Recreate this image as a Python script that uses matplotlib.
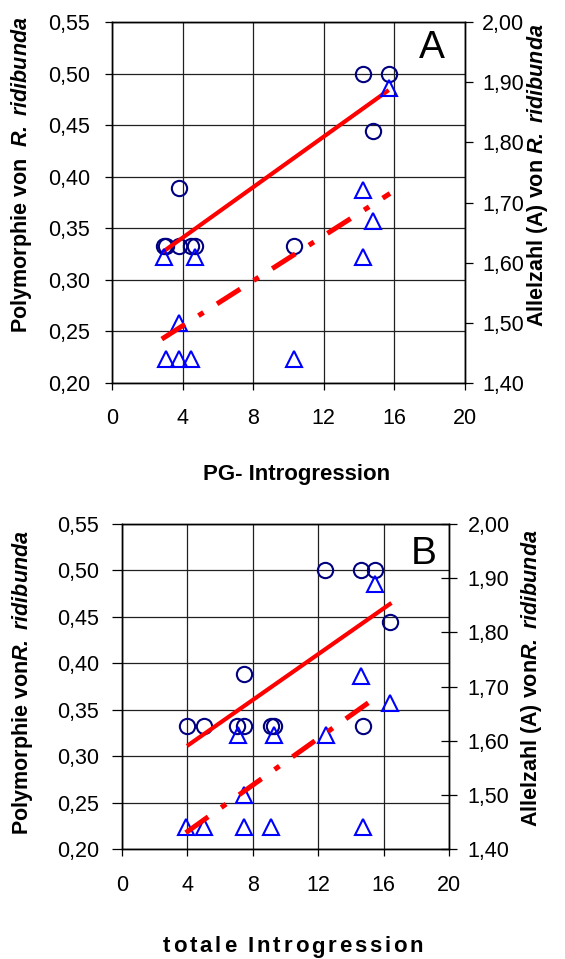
import matplotlib
matplotlib.use("Agg")
import matplotlib.pyplot as plt

plt.rcParams['font.family'] = ['Liberation Sans', 'DejaVu Sans']
plt.rcParams['mathtext.fontset'] = 'custom'
plt.rcParams['mathtext.rm'] = 'Liberation Sans'
plt.rcParams['mathtext.it'] = 'Liberation Sans:italic'
plt.rcParams['mathtext.bf'] = 'Liberation Sans:bold'
plt.rcParams['mathtext.bfit'] = 'Liberation Sans:bold:italic'

# ---------------- data ----------------
x_ticks = [0, 4, 8, 12, 16, 20]
left_ticks = [0.20, 0.25, 0.30, 0.35, 0.40, 0.45, 0.50, 0.55]
right_ticks = [1.40, 1.50, 1.60, 1.70, 1.80, 1.90, 2.00]

# Panel A: PG introgression
a_poly_x = [2.95, 3.05, 3.8, 4.5, 4.7, 10.3, 3.8, 14.2, 15.7, 14.8]
a_poly_y = [0.333, 0.333, 0.333, 0.333, 0.333, 0.333, 0.389, 0.500, 0.500, 0.444]
a_alle_x = [2.95, 4.7, 14.2, 3.8, 3.05, 3.8, 4.5, 10.3, 14.2, 14.8, 15.7]
a_alle_y = [1.61, 1.61, 1.61, 1.50, 1.44, 1.44, 1.44, 1.44, 1.72, 1.67, 1.89]
a_poly_fit_x = [2.87, 15.68]
a_poly_fit_y = [0.327, 0.484]
a_alle_fit_x = [2.82, 15.75]
a_alle_fit_y = [1.473, 1.715]

# Panel B: total introgression
b_poly_x = [12.44, 14.6, 15.47, 16.39, 7.44, 3.98, 5.0, 7.05, 7.46, 9.14, 9.3, 14.74]
b_poly_y = [0.500, 0.500, 0.500, 0.444, 0.389, 0.333, 0.333, 0.333, 0.333, 0.333, 0.333, 0.333]
b_alle_x = [15.47, 14.64, 16.39, 7.1, 9.28, 12.46, 7.44, 3.94, 5.0, 7.44, 9.14, 14.74]
b_alle_y = [1.89, 1.72, 1.67, 1.61, 1.61, 1.61, 1.50, 1.44, 1.44, 1.44, 1.44, 1.44]
b_poly_fit_x = [3.98, 16.48]
b_poly_fit_y = [0.311, 0.465]
b_alle_fit_x = [3.90, 15.72]
b_alle_fit_y = [1.430, 1.684]

# ---------------- figure ----------------
W, H, DPI = 565, 959, 100
fig = plt.figure(figsize=(W / DPI, H / DPI), dpi=DPI)

TICK_FS = 15.5
LABEL_FS = 15.5


def comma(v):
    return f"{v:.2f}".replace('.', ',')


def px_axes(l, t, r, b):
    return fig.add_axes([l / W, 1 - b / H, (r - l) / W, (b - t) / H])


def panel(box, px, py, tx, ty, sfx, sfy, dfx, dfy, letter, letter_pos,
          xpad, lpad, rdir, rlen, rpad, ltick):
    ax = px_axes(*box)
    ax.set_xlim(0, 20)
    ax.set_ylim(0.20, 0.55)
    ax.set_xticks(x_ticks)
    ax.set_yticks(left_ticks)
    ax.set_yticklabels([comma(v) for v in left_ticks])
    ax.grid(True, color='#202020', lw=0.9)
    ax.set_axisbelow(True)
    for s in ax.spines.values():
        s.set_linewidth(1.0)
    ax.tick_params(axis='x', direction='out', length=5, width=0.9,
                   labelsize=TICK_FS, pad=xpad)
    ax.tick_params(axis='y', direction='out', length=ltick, width=0.9,
                   labelsize=TICK_FS, pad=lpad)

    ax2 = ax.twinx()
    ax2.set_ylim(1.40, 2.00)
    ax2.set_yticks(right_ticks)
    ax2.set_yticklabels([comma(v) for v in right_ticks])
    ax2.tick_params(axis='y', direction=rdir, length=rlen, width=0.9,
                    labelsize=TICK_FS, pad=rpad)
    for s in ax2.spines.values():
        s.set_linewidth(1.0)

    ax.plot(px, py, 'o', mfc='none', mec='#000080', ms=11, mew=1.5,
            zorder=3, clip_on=False)
    ax.plot(sfx, sfy, '-', color='#FF0000', lw=3.0, zorder=4,
            solid_capstyle='butt')
    ax2.plot(tx, ty, '^', mfc='none', mec='#0000FF', ms=12, mew=1.5,
             zorder=3, clip_on=False)
    ax2.plot(dfx, dfy, color='#FF0000', lw=3.6, zorder=4,
             ls=(0, (5.5, 3.2, 1.2, 3.2)))
    ax2.text(letter_pos[0], letter_pos[1], letter, transform=ax2.transAxes,
             fontsize=28, ha='center', va='center')
    return ax, ax2


panel((112, 22, 465, 383), a_poly_x, a_poly_y, a_alle_x, a_alle_y,
      a_poly_fit_x, a_poly_fit_y, a_alle_fit_x, a_alle_fit_y,
      'A', (0.906, 0.929), xpad=13, lpad=11, rdir='out', rlen=6, rpad=6.5,
      ltick=5)
panel((122, 524, 449, 849), b_poly_x, b_poly_y, b_alle_x, b_alle_y,
      b_poly_fit_x, b_poly_fit_y, b_alle_fit_x, b_alle_fit_y,
      'B', (0.923, 0.909), xpad=14, lpad=9.5, rdir='inout', rlen=11, rpad=8,
      ltick=7)


def ftext(xp, yp, s, **kw):
    return fig.text(xp / W, 1 - yp / H, s, **kw)


ital = r"$\mathbfit{R.\ ridibunda}$"
ftext(22, 175, "Polymorphie von  " + ital, rotation=90, fontsize=LABEL_FS,
      fontweight='bold', ha='center', va='center')
ftext(537, 175, "Allelzahl (A) von " + ital, rotation=90, fontsize=LABEL_FS,
      fontweight='bold', ha='center', va='center')
ftext(23, 683, "Polymorphie von" + ital, rotation=90, fontsize=LABEL_FS,
      fontweight='bold', ha='center', va='center')
ftext(531, 678, "Allelzahl (A) von" + ital, rotation=90, fontsize=LABEL_FS,
      fontweight='bold', ha='center', va='center')

ftext(297, 474, "PG- Introgression", fontsize=16, fontweight='bold',
      ha='center', va='center')

# letter-spaced axis title for the lower panel
renderer = fig.canvas.get_renderer()
title = "totale Introgression"
kw = dict(fontsize=16, fontweight='bold', va='center', ha='left')


def text_width(s):
    t = fig.text(0, 0, "x" + s + "x", **kw)
    w = t.get_window_extent(renderer).width
    t.remove()
    t = fig.text(0, 0, "xx", **kw)
    w0 = t.get_window_extent(renderer).width
    t.remove()
    return w - w0


span_left, span_right = 163, 423
full = text_width(title)
track = (span_right - span_left - full) / (len(title) - 1)
for i, ch in enumerate(title):
    if ch == " ":
        continue
    xpos = span_left + text_width(title[:i]) + i * track
    ftext(xpos, 947, ch, **kw)

fig.savefig("out.png", dpi=DPI)
